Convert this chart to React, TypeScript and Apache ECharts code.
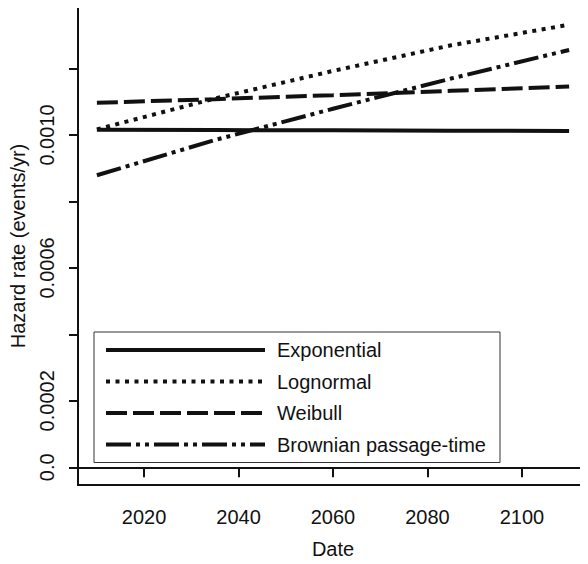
import React, { useEffect, useRef } from "react";
import * as echarts from "echarts";

const years = [2010, 2035, 2060, 2085, 2110];
const exponential = [0.001016, 0.001015, 0.001014, 0.001013, 0.001012];
const lognormal = [0.001017, 0.00111, 0.001193, 0.00127, 0.001332];
const weibull = [0.001097, 0.001108, 0.00112, 0.001133, 0.001146];
const bpt = [0.000879, 0.000985, 0.001079, 0.00117, 0.001256];
const seriesNames = ["Exponential", "Lognormal", "Weibull", "Brownian passage-time"];
const xTicks = [2020, 2040, 2060, 2080, 2100];
const yTicks = [0, 0.0002, 0.0004, 0.0006, 0.0008, 0.001, 0.0012];
const yLabelValues = [0, 0.0002, 0.0006, 0.001];
const yLabelTexts = ["0.0", "0.0002", "0.0006", "0.0010"];

const FONT = "'Liberation Sans', Arial, sans-serif";
const FS = 20;

export default function App() {
  const ref = useRef<HTMLDivElement>(null);
  useEffect(() => {
    if (!ref.current) return;
    const chart = echarts.init(ref.current, undefined, { renderer: "svg" });
    const dashes: any[] = [
      "solid",
      [4, 5.5],
      [21, 6],
      [25, 5, 4, 5, 4, 5],
    ];
    const datasets = [exponential, lognormal, weibull, bpt];
    chart.setOption({
      animation: false,
      backgroundColor: "#fff",
      textStyle: { fontFamily: FONT },
      grid: {
        left: 77,
        top: 7,
        right: -5,
        bottom: 73,
        show: true,
        borderColor: "#111",
        borderWidth: 2,
        backgroundColor: "transparent",
      },
      legend: {
        orient: "vertical",
        left: 94,
        top: 332,
        itemWidth: 159,
        itemHeight: 20,
        itemGap: 11.5,
        padding: [8, 14, 8, 10],
        borderColor: "#333",
        borderWidth: 1,
        itemStyle: { opacity: 0 },
        lineStyle: { width: 4 },
        textStyle: {
          fontFamily: FONT,
          fontSize: FS,
          color: "#111",
          padding: [0, 0, 0, 7],
        },
        data: seriesNames,
      },
      xAxis: {
        type: "value",
        min: 2006,
        max: 2114,
        name: "Date",
        nameLocation: "middle",
        nameGap: 54,
        nameTextStyle: { fontSize: FS, color: "#111", fontFamily: FONT },
        axisLine: { show: true, lineStyle: { color: "#111", width: 2 } },
        axisTick: {
          show: true,
          length: 10,
          customValues: xTicks,
          lineStyle: { color: "#111", width: 2 },
        },
        axisLabel: {
          customValues: xTicks,
          margin: 22,
          fontSize: FS,
          color: "#111",
          fontFamily: FONT,
          formatter: (v: number) => String(v),
        },
        splitLine: { show: false },
      },
      yAxis: {
        type: "value",
        min: -0.0000533,
        max: 0.0013853,
        name: "Hazard rate (events/yr)",
        nameLocation: "middle",
        nameRotate: 90,
        nameGap: 50,
        nameTextStyle: { fontSize: FS, color: "#111", fontFamily: FONT },
        axisLine: { show: true, lineStyle: { color: "#111", width: 2 } },
        axisTick: {
          show: true,
          length: 9,
          customValues: yTicks,
          lineStyle: { color: "#111", width: 2 },
        },
        axisLabel: {
          customValues: yLabelValues,
          rotate: 90,
          margin: 21,
          fontSize: FS,
          color: "#111",
          fontFamily: FONT,
          formatter: (v: number) => {
            const i = yLabelValues.findIndex((x) => Math.abs(x - v) < 1e-9);
            return i >= 0 ? yLabelTexts[i] : "";
          },
        },
        splitLine: { show: false },
      },
      series: seriesNames.map((name, i) => ({
        name,
        type: "line",
        symbol: "none",
        showSymbol: false,
        smooth: false,
        data: years.map((y, j) => [y, datasets[i][j]]),
        lineStyle: { color: "#111", width: 4, type: dashes[i], cap: "butt" },
        itemStyle: { color: "#111" },
      })),
    });
    return () => chart.dispose();
  }, []);
  return <div ref={ref} style={{ width: 588, height: 564, margin: -8 }} />;
}
